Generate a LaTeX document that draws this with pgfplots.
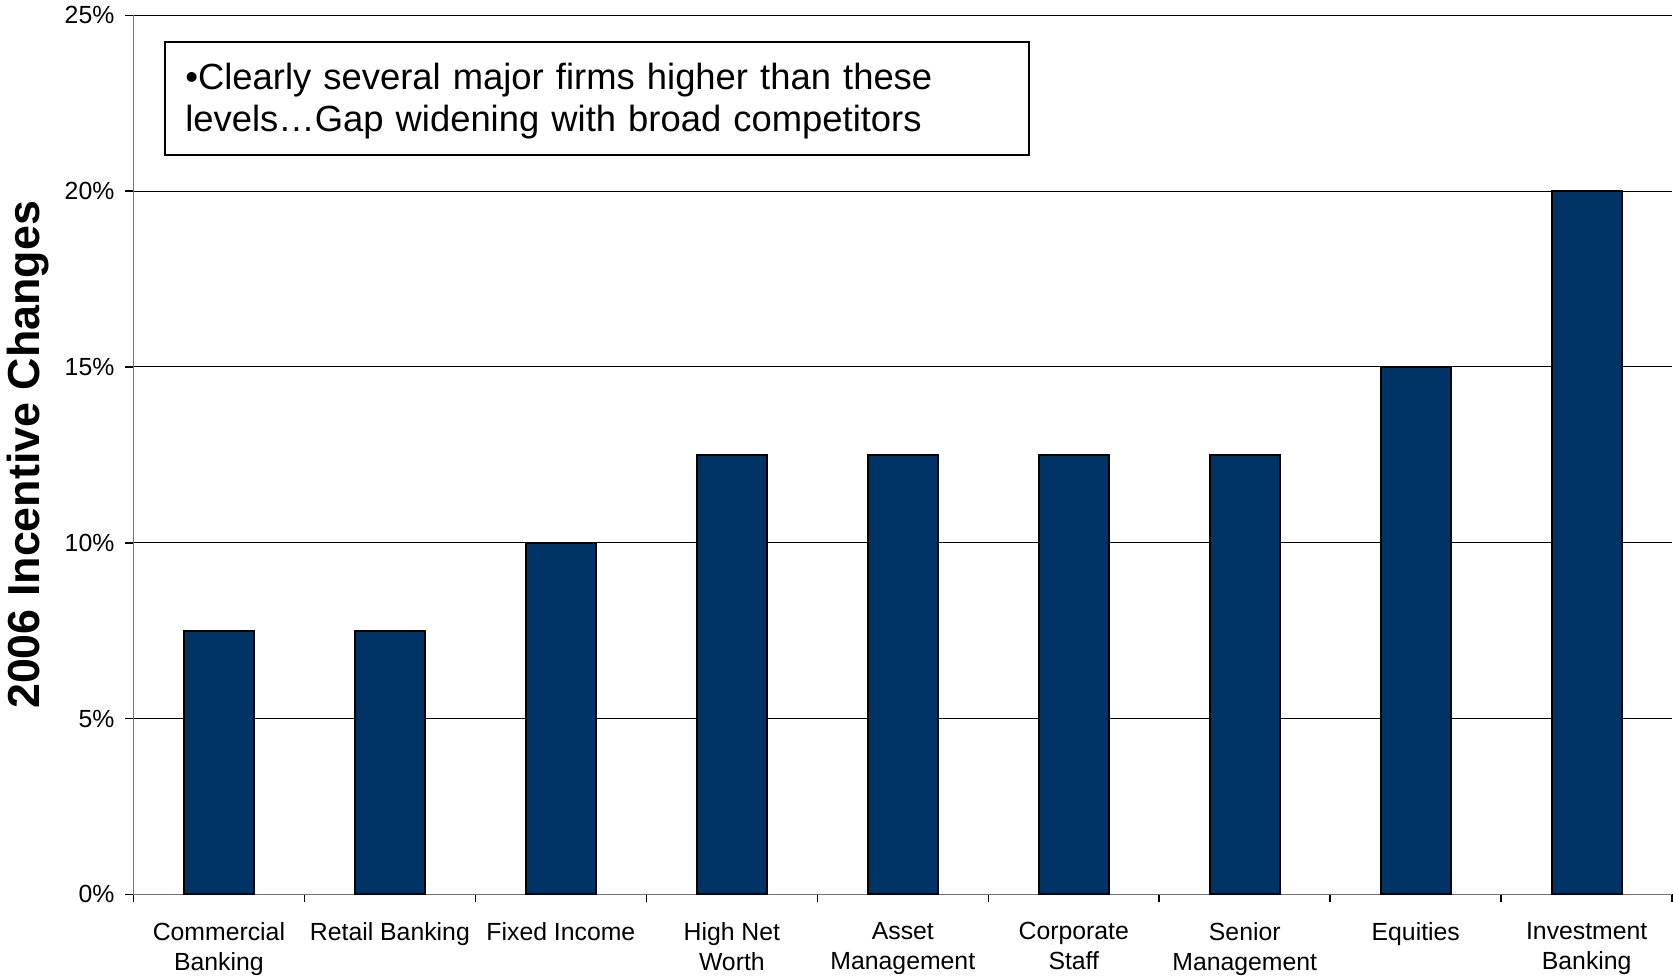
\documentclass[border=0pt]{standalone}
\usepackage{pgfplots}
\pgfplotsset{compat=1.18}
\usepackage{fontspec}
\setmainfont{Liberation Sans}
\definecolor{barblue}{RGB}{0,51,102}
\begin{document}
\begin{tikzpicture}
\begin{axis}[
  scale only axis,
  width=769.5pt, height=439.5pt,
  xmin=-0.5, xmax=8.5, ymin=0, ymax=25,
  axis x line*=bottom, axis y line*=left,
  axis line style={line width=0.8pt, color=black!55},
  xtick={0,...,8},
  xticklabels={Commercial\\Banking, Retail Banking, Fixed Income, High Net\\Worth, Asset\\Management, Corporate\\Staff, Senior\\Management, Equities, Investment\\Banking},
  major x tick style={draw=none},
  minor xtick={-0.5,0.5,...,8.5},
  minor tick length=4pt,
  minor x tick style={black, line width=0.8pt},
  xticklabel style={align=center, font=\fontsize{12.4}{15}\selectfont, inner ysep=0pt, yshift=-9.8pt},
  ytick={0,5,...,25},
  yticklabel={\pgfmathprintnumber{\tick}\%},
  yticklabel style={font=\fontsize{12.4}{14.5}\selectfont, xshift=-2pt},
  /pgf/number format/assume math mode=true,
  tick align=outside,
  major tick length=4pt,
  y tick style={black, line width=0.8pt},
  ymajorgrids,
  grid style={black, line width=0.5pt},
  ylabel={\bfseries 2006 Incentive Changes},
  ylabel style={font=\fontsize{22.4}{26}\selectfont, yshift=1.2pt},
  clip=false,
]
\addplot[ybar, bar width=35pt, fill=barblue, draw=black, line width=1pt] coordinates {
  (0,7.5) (1,7.5) (2,10) (3,12.5) (4,12.5) (5,12.5) (6,12.5) (7,15) (8,20)
};
\node[draw=black, line width=1pt, fill=white, anchor=north west, align=left,
      text width=412pt, inner xsep=10pt, inner ysep=8pt,
      font=\fontsize{18.2}{20.8}\selectfont]
  at (rel axis cs:0.0201,0.971) {\rule{0pt}{16pt}\textbullet Clearly several major firms higher than these\\levels\ldots Gap widening with broad competitors};
\end{axis}
\end{tikzpicture}
\end{document}
